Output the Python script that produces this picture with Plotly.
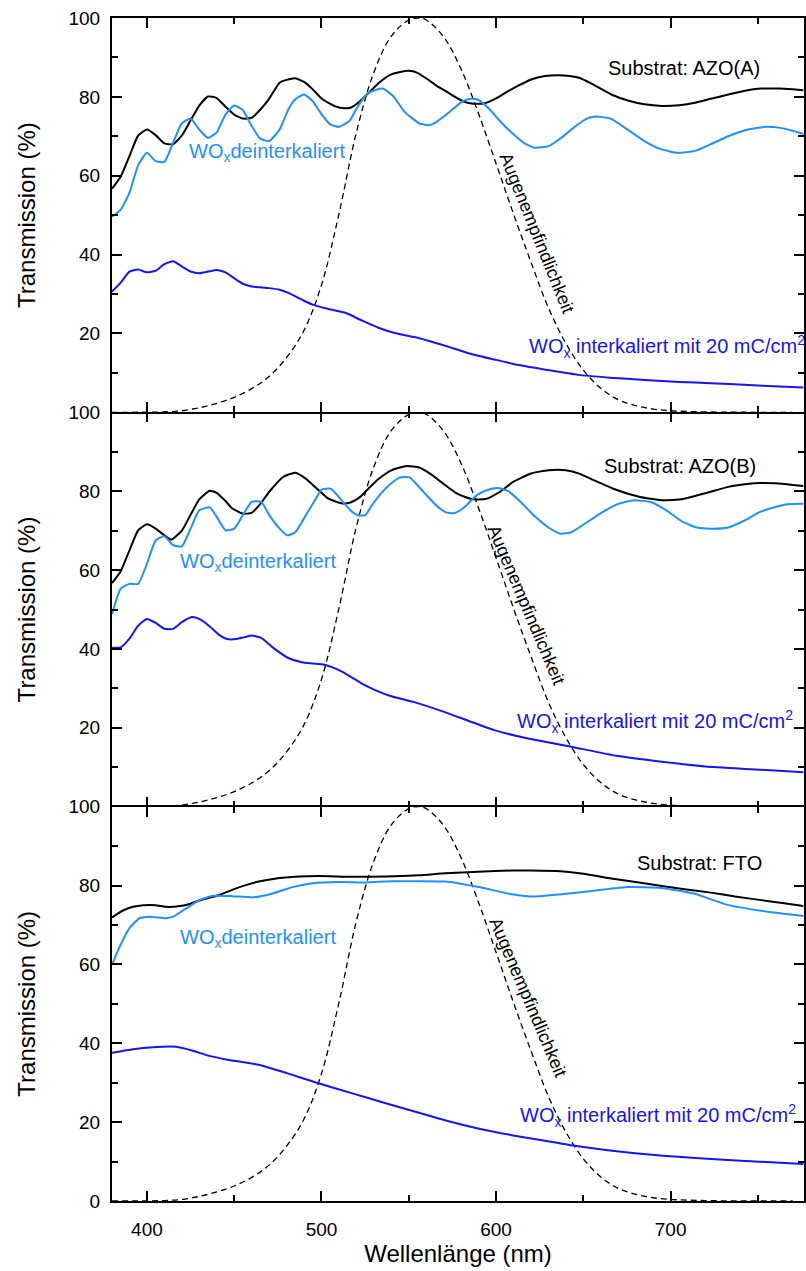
import plotly.graph_objects as go
from plotly.subplots import make_subplots

# ---------------- data ----------------
# eye sensitivity (photopic, % of maximum)
eye_wl = [380, 390, 400, 410, 420, 430, 440, 450, 460, 470, 480, 490, 500, 510, 520, 530,
          540, 550, 555, 560, 570, 580, 590, 600, 610, 620, 630, 640, 650, 660, 670, 680,
          690, 700, 710, 720, 730, 740, 750, 760, 770]
eye_val = [0.004, 0.012, 0.04, 0.12, 0.4, 1.16, 2.3, 3.8, 6.0, 9.1, 13.9, 20.8, 32.3, 50.3, 71.0, 86.2,
           95.4, 99.5, 100.0, 99.5, 95.2, 87.0, 75.7, 63.1, 50.3, 38.1, 26.5, 17.5, 10.7, 6.1, 3.2, 1.7,
           0.82, 0.41, 0.21, 0.105, 0.052, 0.025, 0.012, 0.006, 0.003]

# Panel A: Substrat AZO(A)
a_sub_wl = [380, 385, 390, 395, 400, 405, 410, 415, 420, 425, 430, 435, 440, 445, 450, 455, 460, 465,
            470, 476, 480, 485, 490, 495, 500, 504, 508, 513, 517, 521, 527, 533, 540, 545, 550, 555,
            561, 566, 571, 576, 581, 586, 593, 600, 606, 613, 620, 628, 636, 642, 647, 655, 666, 676,
            685, 695, 705, 714, 723, 733, 742, 752, 762, 770, 776]
a_sub_val = [56.7, 59.8, 65.0, 70.2, 71.7, 70.3, 68.2, 68.0, 70.2, 74.0, 77.8, 80.1, 79.7, 77.5, 75.5, 74.5, 74.7, 76.8,
             79.5, 83.6, 84.3, 84.7, 83.8, 81.9, 79.6, 78.5, 77.6, 77.1, 77.3, 78.5, 81.0, 83.6, 85.7, 86.3, 86.6, 86.1,
             84.4, 82.8, 81.5, 80.1, 78.9, 78.3, 78.3, 79.6, 81.2, 82.9, 84.4, 85.3, 85.5, 85.3, 84.9, 83.3, 80.6, 79.0,
             78.1, 77.7, 77.9, 78.5, 79.5, 80.6, 81.5, 82.1, 82.1, 81.9, 81.7]
a_de_wl = [380, 385, 390, 395, 400, 405, 410, 415, 420, 425, 430, 435, 440, 445, 450, 455, 460, 465, 470,
           476, 481, 485, 490, 495, 500, 505, 510, 516, 521, 527, 535, 541, 548, 556, 561, 565, 570, 575,
           581, 586, 590, 596, 603, 609, 616, 622, 630, 637, 645, 652, 657, 662, 666, 675, 685, 694, 704,
           714, 723, 733, 743, 754, 762, 770, 776]
a_de_val = [49.6, 51.4, 55.7, 62.7, 65.8, 63.7, 63.5, 68.4, 73.3, 74.5, 71.7, 69.6, 71.0, 75.5, 77.8, 76.6, 72.6, 69.4, 68.8,
            71.7, 76.8, 79.4, 80.6, 78.9, 75.6, 73.0, 72.4, 73.9, 77.7, 81.1, 82.1, 80.2, 76.0, 73.3, 72.8, 73.4, 75.0, 76.8,
            78.9, 79.5, 79.2, 77.0, 73.5, 70.9, 68.3, 67.1, 67.5, 69.5, 72.4, 74.5, 75.0, 74.8, 74.4, 71.8, 68.8, 66.8, 65.8,
            66.3, 68.0, 70.0, 71.6, 72.4, 72.2, 71.4, 70.6]
a_in_wl = [380, 385, 390, 395, 400, 405, 410, 415, 420, 425, 430, 435, 440, 445, 450, 455, 460, 465, 470,
           476, 481, 485, 490, 495, 504, 514, 523, 533, 542, 556, 570, 584, 600, 613, 630, 647, 665, 685,
           705, 723, 750, 776]
a_in_val = [30.6, 32.9, 35.7, 36.2, 35.5, 35.9, 37.6, 38.3, 37.0, 35.7, 35.3, 35.7, 36.1, 35.5, 34.0, 32.6, 31.9, 31.7, 31.5,
            31.1, 30.3, 29.4, 28.3, 27.3, 26.2, 25.2, 23.3, 21.4, 20.1, 18.8, 17.0, 15.0, 13.3, 12.0, 10.7, 9.5, 8.8, 8.2,
            7.7, 7.4, 6.8, 6.3]

# Panel B: Substrat AZO(B)
b_sub_wl = [380, 385, 390, 395, 400, 405, 410, 414, 420, 425, 430, 436, 440, 445, 449, 455, 460, 465, 470,
            478, 485, 491, 497, 504, 512, 517, 522, 527, 533, 540, 549, 556, 563, 571, 578, 586, 594, 602,
            610, 620, 630, 640, 648, 656, 668, 682, 695, 707, 720, 733, 745, 751, 760, 770, 776]
b_sub_val = [56.7, 59.7, 65.0, 70.1, 71.6, 70.5, 68.8, 67.7, 70.0, 74.0, 77.9, 80.1, 79.6, 77.5, 75.6, 74.3, 74.5, 76.8, 79.8,
             83.6, 84.7, 83.2, 80.8, 78.1, 76.9, 77.2, 78.5, 80.7, 83.2, 85.3, 86.4, 86.0, 84.2, 81.5, 79.3, 78.0, 78.0, 79.8,
             82.4, 84.5, 85.3, 85.3, 84.4, 82.8, 80.5, 78.6, 77.7, 78.0, 79.5, 81.1, 81.9, 82.1, 82.0, 81.6, 81.3]
b_de_wl = [380, 385, 390, 395, 400, 405, 410, 415, 420, 425, 430, 436, 440, 445, 450, 455, 460, 465.5, 470,
           476, 480.5, 485, 491, 496, 500, 505.5, 509, 513, 517, 521, 525, 529, 534, 540, 545, 550.5, 555,
           561, 566, 571, 576, 582, 589, 595, 601, 607, 614, 622.5, 630, 637, 643, 650, 661, 670, 679, 689,
           698, 707, 715, 723, 733, 742, 751, 760, 767, 776]
b_de_val = [48.8, 55.3, 56.5, 56.5, 61.6, 67.5, 68.6, 66.3, 66.0, 70.5, 75.2, 75.9, 73.5, 70.1, 70.5, 74.0, 77.3, 77.3, 74.0,
            70.5, 68.8, 69.6, 73.9, 77.5, 80.4, 80.6, 79.0, 76.9, 75.0, 73.9, 73.9, 76.5, 79.4, 82.0, 83.5, 83.5, 81.5,
            78.6, 76.3, 74.7, 74.4, 76.0, 79.0, 80.3, 80.8, 80.0, 77.3, 73.5, 70.8, 69.2, 69.6, 71.5, 74.7, 76.8, 77.7, 77.2,
            75.0, 72.2, 70.8, 70.5, 70.8, 72.5, 74.7, 76.0, 76.7, 76.8]
b_in_wl = [380, 385, 390, 395, 400, 405, 410, 415, 420, 425.7, 430, 436, 441, 446, 451, 456, 460, 465.5, 472,
           481, 488.7, 495, 501.6, 506, 512, 518, 524, 531, 540, 553, 568.5, 584, 599, 617, 643, 669, 695, 720, 746, 776]
b_in_val = [40.3, 40.4, 42.6, 45.9, 47.6, 46.6, 45.1, 45.1, 46.8, 48.1, 47.6, 45.7, 43.7, 42.5, 42.5, 43.0, 43.4, 42.8, 40.4,
            37.7, 36.6, 36.3, 36.0, 35.4, 34.2, 32.6, 31.0, 29.5, 28.0, 26.5, 24.3, 21.8, 19.4, 17.4, 15.2, 12.9, 11.4, 10.2, 9.5, 8.7]

# Panel C: Substrat FTO
c_sub_wl = [380, 386, 392, 398, 405, 411, 419, 425, 430, 441.5, 453, 464, 476, 487, 499, 518, 537, 556, 571,
            590, 609, 620, 637, 650, 666, 680, 695, 709, 723, 737, 752, 765, 776]
c_sub_val = [71.9, 73.6, 74.6, 75.0, 75.0, 74.6, 74.8, 75.4, 76.2, 77.6, 79.6, 81.0, 81.9, 82.3, 82.4, 82.2, 82.3, 82.6, 83.1,
             83.5, 83.8, 83.8, 83.6, 83.0, 81.8, 80.9, 79.9, 79.0, 78.2, 77.2, 76.3, 75.5, 74.8]
c_de_wl = [380, 384.4, 390, 395.8, 401.5, 411, 415, 422.5, 430, 437.7, 449, 460.6, 472, 483.4, 495, 510, 525,
           540, 556, 571, 590, 609, 622, 637.5, 656.4, 675.6, 694.6, 713.7, 732.6, 751.8, 776]
c_de_val = [59.9, 64.5, 69.2, 71.7, 72.1, 71.7, 72.1, 74.2, 76.3, 77.4, 77.3, 77.0, 78.0, 79.6, 80.6, 80.9, 80.8,
            81.1, 81.1, 81.0, 79.6, 77.8, 77.2, 77.8, 78.7, 79.6, 79.4, 77.9, 75.1, 73.6, 72.3]
c_in_wl = [380, 392, 403.4, 416.8, 426.3, 435.8, 445.4, 464.4, 479.7, 498.7, 517.7, 536.8, 555.8, 570.7, 589.7,
           608.9, 628, 647, 675.6, 704.2, 732.6, 776]
c_in_val = [37.6, 38.5, 39.0, 39.1, 38.1, 36.8, 35.9, 34.5, 32.5, 29.8, 27.3, 24.8, 22.4, 20.5, 18.4,
            16.7, 15.3, 13.9, 12.3, 11.2, 10.4, 9.4]

panels = [
    dict(sub=(a_sub_wl, a_sub_val), de=(a_de_wl, a_de_val), inn=(a_in_wl, a_in_val),
         name="Substrat: AZO(A)", name_pos=(707.5, 87.4), de_pos=(423, 66.0), in_pos=(618, 16.7),
         eye_pos=(623.5, 45.6), eye_ang=68),
    dict(sub=(b_sub_wl, b_sub_val), de=(b_de_wl, b_de_val), inn=(b_in_wl, b_in_val),
         name="Substrat: AZO(B)", name_pos=(705.3, 86.4), de_pos=(418, 61.8), in_pos=(611, 21.6),
         eye_pos=(617.4, 51.2), eye_ang=67),
    dict(sub=(c_sub_wl, c_sub_val), de=(c_de_wl, c_de_val), inn=(c_in_wl, c_in_val),
         name="Substrat: FTO", name_pos=(716.7, 85.8), de_pos=(418, 66.5), in_pos=(612.6, 21.6),
         eye_pos=(618.3, 51.8), eye_ang=67),
]

BLACK = "#000000"
LIGHT = "#1E90FF"
DARK = "#1515F0"
FONT = "Liberation Sans, Arial, Helvetica, sans-serif"

fig = make_subplots(rows=3, cols=1, shared_xaxes=True, vertical_spacing=0)

for i, p in enumerate(panels):
    r = i + 1
    fig.add_trace(go.Scatter(x=eye_wl, y=eye_val, mode="lines", line=dict(color=BLACK, width=1.3, dash="6px,4px", shape="spline"),
                             showlegend=False), row=r, col=1)
    fig.add_trace(go.Scatter(x=p["sub"][0], y=p["sub"][1], mode="lines", line=dict(color=BLACK, width=2, shape="spline", smoothing=0.5),
                             showlegend=False), row=r, col=1)
    fig.add_trace(go.Scatter(x=p["de"][0], y=p["de"][1], mode="lines", line=dict(color=LIGHT, width=2, shape="spline", smoothing=0.5),
                             showlegend=False), row=r, col=1)
    fig.add_trace(go.Scatter(x=p["inn"][0], y=p["inn"][1], mode="lines", line=dict(color=DARK, width=2, shape="spline", smoothing=0.5),
                             showlegend=False), row=r, col=1)
    xr = "x" if r == 1 else f"x{r}"
    yr = "y" if r == 1 else f"y{r}"
    fig.add_annotation(x=p["name_pos"][0], y=p["name_pos"][1], xref=xr, yref=yr, text=p["name"], showarrow=False,
                       font=dict(family=FONT, size=20, color=BLACK), xanchor="center", yanchor="middle")
    fig.add_annotation(x=p["de_pos"][0], y=p["de_pos"][1], xref=xr, yref=yr, text="WO<sub>x</sub>deinterkaliert", showarrow=False,
                       font=dict(family=FONT, size=20, color=LIGHT), xanchor="left", yanchor="middle")
    fig.add_annotation(x=p["in_pos"][0], y=p["in_pos"][1], xref=xr, yref=yr, text="WO<sub>x</sub> interkaliert mit 20 mC/cm<sup>2</sup>",
                       showarrow=False, font=dict(family=FONT, size=20, color=DARK), xanchor="left", yanchor="middle")
    fig.add_annotation(x=p["eye_pos"][0], y=p["eye_pos"][1], xref=xr, yref=yr, text="Augenempfindlichkeit", showarrow=False,
                       font=dict(family=FONT, size=18, color=BLACK), textangle=p["eye_ang"], xanchor="center", yanchor="middle")

    ytv = [20, 40, 60, 80, 100] if r < 3 else [0, 20, 40, 60, 80, 100]
    fig.update_yaxes(row=r, col=1, range=[0, 100], tickvals=ytv, ticktext=[str(v) for v in ytv],
                     ticks="inside", ticklen=10, tickwidth=1.5, tickcolor=BLACK,
                     minor=dict(tickmode="linear", tick0=0, dtick=10, ticks="inside", ticklen=6, tickwidth=1.5, tickcolor=BLACK),
                     showline=True, linewidth=2, linecolor=BLACK, mirror="ticks",
                     showgrid=False, zeroline=False,
                     tickfont=dict(family=FONT, size=19, color=BLACK), ticklabelstandoff=6,
                     title=dict(text="Transmission (%)", font=dict(family=FONT, size=24, color=BLACK), standoff=26))
    fig.update_xaxes(row=r, col=1, range=[380, 776.4], tickvals=[400, 500, 600, 700],
                     ticktext=["400", "500", "600", "700"],
                     ticks="inside", ticklen=10, tickwidth=1.5, tickcolor=BLACK,
                     minor=dict(tickmode="linear", tick0=0, dtick=50, ticks="inside", ticklen=6, tickwidth=1.5, tickcolor=BLACK),
                     showline=(r != 2), linewidth=2, linecolor=BLACK, mirror="ticks",
                     showgrid=False, zeroline=False, showticklabels=(r == 3),
                     tickfont=dict(family=FONT, size=19, color=BLACK), ticklabelstandoff=10)

fig.update_xaxes(row=3, col=1, title=dict(text="Wellenlänge (nm)", font=dict(family=FONT, size=24, color=BLACK), standoff=6))

fig.update_layout(width=806, height=1271, margin=dict(l=112, r=0, t=18, b=70),
                  paper_bgcolor="white", plot_bgcolor="white", showlegend=False,
                  font=dict(family=FONT, color=BLACK))

fig.write_html("out.html")
